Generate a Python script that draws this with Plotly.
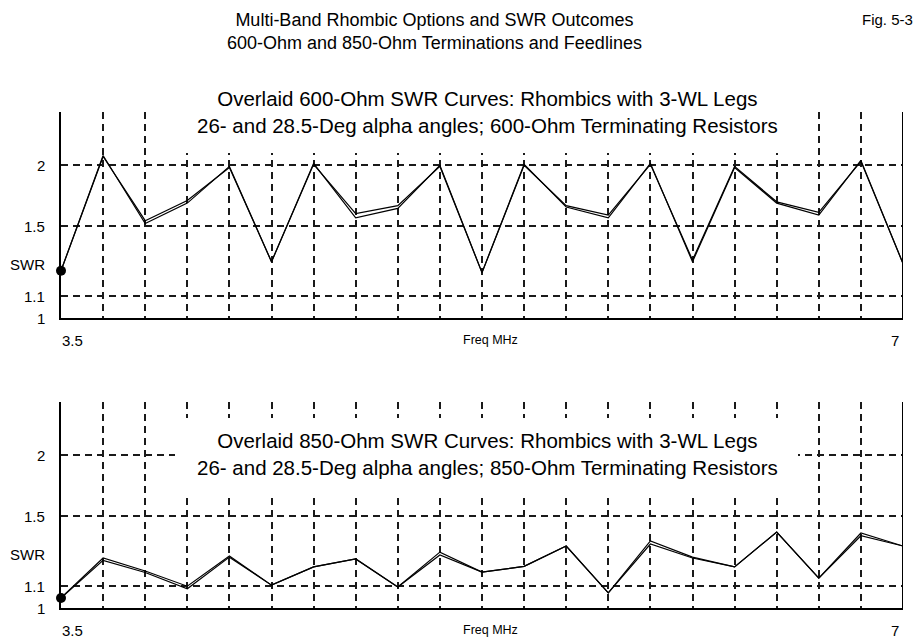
import numpy as np
import plotly.graph_objects as go

# ---------------- data ----------------
freq_mhz = [3.5, 3.675, 3.85, 4.025, 4.2, 4.375, 4.55, 4.725, 4.9, 5.075, 5.25,
            5.425, 5.6, 5.775, 5.95, 6.125, 6.3, 6.475, 6.65, 6.825, 7.0]

swr_600_26 = [1.23, 2.10, 1.52, 1.67, 1.99, 1.28, 2.02, 1.56, 1.63, 2.00, 1.22,
              2.01, 1.64, 1.56, 2.02, 1.28, 1.98, 1.67, 1.58, 2.05, 1.27]
swr_600_285 = [1.23, 2.09, 1.54, 1.69, 1.98, 1.28, 2.01, 1.59, 1.65, 1.99, 1.22,
               2.00, 1.65, 1.58, 2.01, 1.29, 1.99, 1.68, 1.60, 2.04, 1.27]

swr_850_26 = [1.045, 1.245, 1.176, 1.100, 1.256, 1.105, 1.197, 1.240, 1.096, 1.278, 1.170,
              1.200, 1.313, 1.068, 1.343, 1.250, 1.197, 1.398, 1.140, 1.392, 1.313]
swr_850_285 = [1.045, 1.232, 1.168, 1.088, 1.250, 1.105, 1.197, 1.240, 1.096, 1.262, 1.170,
               1.200, 1.313, 1.068, 1.325, 1.245, 1.197, 1.398, 1.140, 1.375, 1.313]

swr_grid_values = [1.1, 1.5, 2]
swr_tick_values = [1, 1.1, 1.5, 2]
swr_tick_labels = ["1", "1.1", "1.5", "2"]
swr_axis_label_pos = 1.262
swr_axis_top = 2.636

main_title = "Multi-Band Rhombic Options and SWR Outcomes<br>600-Ohm and 850-Ohm Terminations and Feedlines"
fig_label = "Fig. 5-3"
top_title = ("Overlaid 600-Ohm SWR Curves: Rhombics with 3-WL Legs<br>"
             "26- and 28.5-Deg alpha angles; 600-Ohm Terminating Resistors")
bottom_title = ("Overlaid 850-Ohm SWR Curves: Rhombics with 3-WL Legs<br>"
                "26- and 28.5-Deg alpha angles; 850-Ohm Terminating Resistors")


# SWR axis scale: linear in reflection coefficient
def rho(s):
    s = np.asarray(s, dtype=float)
    return (s - 1.0) / (s + 1.0)


FONT = "Liberation Sans, Arial, sans-serif"
BLACK = "#000000"
GRID = "#1a1a1a"

fig = go.Figure()

panels = [
    ("x", "y", swr_600_26, swr_600_285),
    ("x2", "y2", swr_850_26, swr_850_285),
]
for xa, ya, s1, s2 in panels:
    for s in (s2, s1):
        fig.add_trace(go.Scatter(
            x=freq_mhz, y=rho(s), mode="lines", xaxis=xa, yaxis=ya,
            line=dict(color=BLACK, width=1.2), showlegend=False, hoverinfo="skip"))
    fig.add_trace(go.Scatter(
        x=[freq_mhz[0]], y=rho([s1[0]]), mode="markers", xaxis=xa, yaxis=ya,
        marker=dict(color=BLACK, size=10), cliponaxis=False,
        showlegend=False, hoverinfo="skip"))

xaxis_common = dict(
    range=[3.5, 7.0], tickmode="array", tickvals=freq_mhz[1:-1],
    showticklabels=False, ticks="", showgrid=True, gridcolor=GRID,
    gridwidth=1.5, griddash="7px,5px", showline=True, linecolor=BLACK,
    linewidth=2, zeroline=False, fixedrange=True,
)
yaxis_common = dict(
    range=[0, float(rho(swr_axis_top))], tickmode="array",
    tickvals=list(rho(swr_grid_values)), showticklabels=False, ticks="",
    showgrid=True, gridcolor=GRID, gridwidth=1.5, griddash="7px,5px",
    showline=True, linecolor=BLACK, linewidth=2, zeroline=False, fixedrange=True,
)

top_dom = [(608 - 318) / 496, 1.0]
bot_dom = [0.0, (608 - 402) / 496]

# the page body adds an 8px offset; figure is sized so the plot area lands at
# page x 61..903, y 112..608
fig.update_layout(
    width=914, height=632,
    margin=dict(l=53, r=19, t=104, b=32),
    paper_bgcolor="white", plot_bgcolor="white",
    font=dict(family=FONT, color=BLACK, size=15),
    xaxis=dict(**xaxis_common, domain=[0, 1], anchor="y"),
    yaxis=dict(**yaxis_common, domain=top_dom, anchor="x"),
    xaxis2=dict(**xaxis_common, domain=[0, 1], anchor="y2"),
    yaxis2=dict(**yaxis_common, domain=bot_dom, anchor="x2"),
)

shapes = []
annotations = []


def px_x(p):
    return (p - 61) / 842


def px_y(p):
    return (608 - p) / 496


for xa, ya, title, box_top, box_bot in [
    ("x", "y", top_title, 76, 153),
    ("x2", "y2", bottom_title, 418, 495),
]:
    # right-hand frame line
    shapes.append(dict(type="line", xref=xa, yref=f"{ya} domain", x0=7.0, x1=7.0,
                       y0=0, y1=1, line=dict(color=BLACK, width=2)))
    # white box behind panel title
    shapes.append(dict(type="rect", xref="paper", yref="paper",
                       x0=px_x(175), x1=px_x(798), y0=px_y(box_bot), y1=px_y(box_top),
                       fillcolor="white", line=dict(width=0), layer="above"))
    annotations.append(dict(text=title, xref="paper", yref="paper",
                            x=px_x(487), y=px_y((box_top + box_bot) / 2 - 3),
                            xanchor="center", yanchor="middle", showarrow=False,
                            font=dict(size=20.5, family=FONT, color=BLACK)))
    # y tick labels
    for v, t in zip(swr_tick_values, swr_tick_labels):
        annotations.append(dict(text=t, xref="paper", yref=ya, x=px_x(47), y=float(rho(v)),
                                xanchor="right", yanchor="middle", showarrow=False,
                                font=dict(size=15, family=FONT, color=BLACK)))
    annotations.append(dict(text="SWR", xref="paper", yref=ya, x=px_x(47),
                            y=float(rho(swr_axis_label_pos)),
                            xanchor="right", yanchor="middle", showarrow=False,
                            font=dict(size=15, family=FONT, color=BLACK)))
    # x labels
    annotations.append(dict(text="3.5", xref=xa, yref=f"{ya} domain", x=3.5, y=0,
                            yshift=-22, xshift=-1, xanchor="left", yanchor="middle",
                            showarrow=False, font=dict(size=15, family=FONT, color=BLACK)))
    annotations.append(dict(text="7", xref=xa, yref=f"{ya} domain", x=7.0, y=0,
                            yshift=-22, xshift=-2, xanchor="right", yanchor="middle",
                            showarrow=False, font=dict(size=15, family=FONT, color=BLACK)))
    annotations.append(dict(text="Freq MHz", xref="paper", yref=f"{ya} domain",
                            x=px_x(490), y=0, yshift=-22, xanchor="center",
                            yanchor="middle", showarrow=False,
                            font=dict(size=12.5, family=FONT, color=BLACK)))

annotations.append(dict(text=main_title, xref="paper", yref="paper",
                        x=px_x(434), y=px_y(32), xanchor="center", yanchor="middle",
                        showarrow=False, font=dict(size=18, family=FONT, color=BLACK)))
annotations.append(dict(text=fig_label, xref="paper", yref="paper",
                        x=px_x(915), y=px_y(20), xanchor="right", yanchor="middle",
                        showarrow=False, font=dict(size=15, family=FONT, color=BLACK)))

fig.update_layout(shapes=shapes, annotations=annotations)

fig.write_html("out.html")
